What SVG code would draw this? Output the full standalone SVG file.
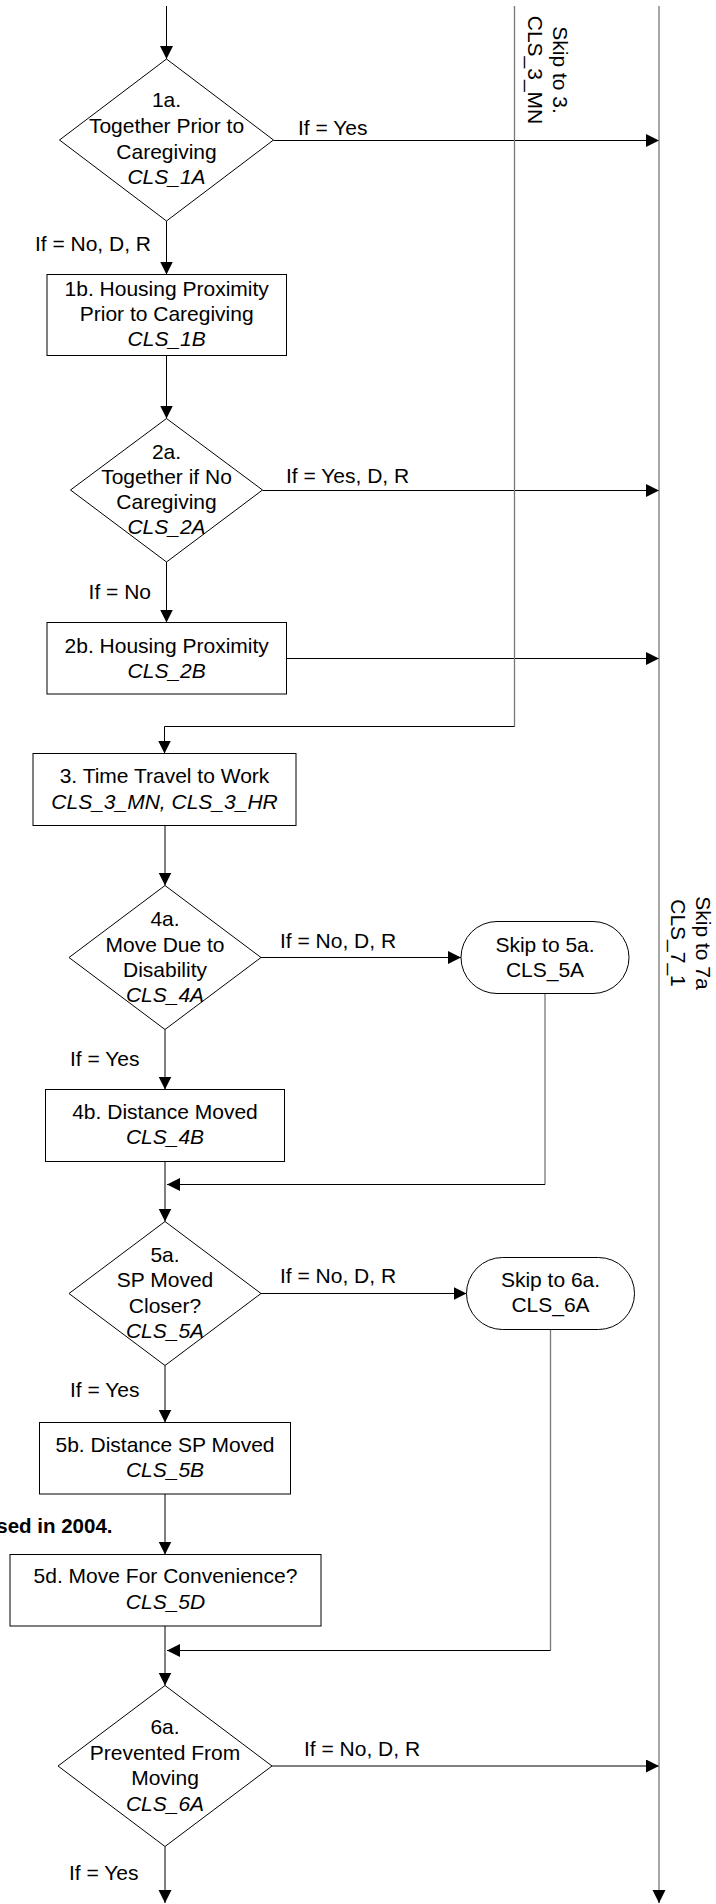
<svg xmlns="http://www.w3.org/2000/svg" width="716" height="1904" viewBox="0 0 716 1904">
<style>
text{font-family:"Liberation Sans",Arial,sans-serif;font-size:21px;fill:#000}
.c{text-anchor:middle}
.i{font-style:italic}
.e{text-anchor:end}
.b{font-weight:bold;font-size:20.5px}
.shape{fill:#fff;stroke:#000;stroke-width:1}
.ln{fill:none;stroke:#000;stroke-width:1}
.gl{fill:none;stroke:#777;stroke-width:1.3}
</style>
<defs>
<marker id="ah" markerUnits="userSpaceOnUse" markerWidth="14" markerHeight="14" refX="13" refY="6.5" orient="auto">
<path d="M0,0 L13,6.5 L0,13 z" fill="#000"/>
</marker>
</defs>
<rect width="716" height="1904" fill="#fff"/>

<g id="connectors">
<line class="ln" x1="166.5" y1="6" x2="166.5" y2="59" marker-end="url(#ah)"/>
<line class="ln" x1="273.5" y1="140.5" x2="659" y2="140.5" marker-end="url(#ah)"/>
<line class="ln" x1="166.5" y1="221" x2="166.5" y2="274.5" marker-end="url(#ah)"/>
<line class="ln" x1="166.5" y1="356" x2="166.5" y2="418.5" marker-end="url(#ah)"/>
<line class="ln" x1="262.5" y1="490.5" x2="659" y2="490.5" marker-end="url(#ah)"/>
<line class="ln" x1="166.5" y1="562" x2="166.5" y2="622.5" marker-end="url(#ah)"/>
<line class="ln" x1="286.5" y1="658.5" x2="659" y2="658.5" marker-end="url(#ah)"/>
<polyline class="gl" points="514.5,6 514.5,726.5"/>
<polyline class="ln" points="514.5,726.5 164.5,726.5 164.5,753.5" marker-end="url(#ah)"/>
<line class="ln" x1="165" y1="825.5" x2="165" y2="885.5" marker-end="url(#ah)"/>
<line class="ln" x1="261" y1="957.5" x2="461" y2="957.5" marker-end="url(#ah)"/>
<line class="gl" x1="545" y1="993.5" x2="545" y2="1184.5"/>
<line class="ln" x1="545" y1="1184.5" x2="167" y2="1184.5" marker-end="url(#ah)"/>
<line class="ln" x1="165" y1="1029.5" x2="165" y2="1089.5" marker-end="url(#ah)"/>
<line class="ln" x1="165" y1="1161.5" x2="165" y2="1221.5" marker-end="url(#ah)"/>
<line class="ln" x1="261" y1="1293.5" x2="466.5" y2="1293.5" marker-end="url(#ah)"/>
<line class="gl" x1="550.5" y1="1329.5" x2="550.5" y2="1650.5"/>
<line class="ln" x1="550.5" y1="1650.5" x2="167" y2="1650.5" marker-end="url(#ah)"/>
<line class="ln" x1="165" y1="1365.5" x2="165" y2="1422.5" marker-end="url(#ah)"/>
<line class="ln" x1="165" y1="1494" x2="165" y2="1554.5" marker-end="url(#ah)"/>
<line class="ln" x1="165" y1="1626" x2="165" y2="1685.5" marker-end="url(#ah)"/>
<line class="ln" x1="272" y1="1766" x2="659" y2="1766" marker-end="url(#ah)"/>
<line class="ln" x1="165" y1="1846.5" x2="165" y2="1903" marker-end="url(#ah)"/>
<line class="gl" x1="659" y1="6" x2="659" y2="1895"/>
<line class="ln" x1="659" y1="1890" x2="659" y2="1903" marker-end="url(#ah)"/>

<text x="298" y="135">If = Yes</text>
<text class="e" x="151" y="251">If = No, D, R</text>
<text x="286" y="483">If = Yes, D, R</text>
<text class="e" x="151" y="599">If = No</text>
<text x="280" y="948">If = No, D, R</text>
<text x="70" y="1066">If = Yes</text>
<text x="280" y="1283">If = No, D, R</text>
<text x="70" y="1397">If = Yes</text>
<text x="304" y="1756">If = No, D, R</text>
<text x="69" y="1880">If = Yes</text>
<text class="c" transform="translate(553,70) rotate(90)">Skip to 3.</text>
<text class="c" transform="translate(528,70) rotate(90)">CLS_3_MN</text>
<text class="c" transform="translate(695.5,943) rotate(90)">Skip to 7a</text>
<text class="c" transform="translate(671,943) rotate(90)">CLS_7_1</text>
</g>

<g id="n1a">
<polygon class="shape" points="166.5,59 273.5,140 166.5,221 59.5,140"/>
<text class="c" x="166.5" y="107">1a.</text>
<text class="c" x="166.5" y="133">Together Prior to</text>
<text class="c" x="166.5" y="159">Caregiving</text>
<text class="c i" x="166.5" y="184">CLS_1A</text>
</g>
<g id="n1b">
<rect class="shape" x="47" y="274.5" width="239.5" height="81"/>
<text class="c" x="166.7" y="296">1b. Housing Proximity</text>
<text class="c" x="166.7" y="321">Prior to Caregiving</text>
<text class="c i" x="166.7" y="346">CLS_1B</text>
</g>
<g id="n2a">
<polygon class="shape" points="166.5,418.5 262.5,490 166.5,562 70.5,490"/>
<text class="c" x="166.5" y="459">2a.</text>
<text class="c" x="166.5" y="484">Together if No</text>
<text class="c" x="166.5" y="509">Caregiving</text>
<text class="c i" x="166.5" y="534">CLS_2A</text>
</g>
<g id="n2b">
<rect class="shape" x="47" y="622.5" width="239.5" height="71.5"/>
<text class="c" x="166.7" y="653">2b. Housing Proximity</text>
<text class="c i" x="166.7" y="678">CLS_2B</text>
</g>
<g id="n3">
<rect class="shape" x="33" y="753.5" width="263" height="72"/>
<text class="c" x="164.5" y="783">3. Time Travel to Work</text>
<text class="c i" x="164.5" y="808.5">CLS_3_MN, CLS_3_HR</text>
</g>
<g id="n4a">
<polygon class="shape" points="165,885.5 261,957.5 165,1029.5 69,957.5"/>
<text class="c" x="165" y="926">4a.</text>
<text class="c" x="165" y="951.5">Move Due to</text>
<text class="c" x="165" y="976.5">Disability</text>
<text class="c i" x="165" y="1001.5">CLS_4A</text>
</g>
<g id="t5a">
<rect class="shape" x="461" y="921.5" width="168" height="72" rx="36" ry="36"/>
<text class="c" x="545" y="951.7">Skip to 5a.</text>
<text class="c" x="545" y="976.7">CLS_5A</text>
</g>
<g id="n4b">
<rect class="shape" x="45.5" y="1089.5" width="239" height="72"/>
<text class="c" x="165" y="1119.3">4b. Distance Moved</text>
<text class="c i" x="165" y="1144.3">CLS_4B</text>
</g>
<g id="n5a">
<polygon class="shape" points="165,1221.5 261,1293.5 165,1365.5 69,1293.5"/>
<text class="c" x="165" y="1261.5">5a.</text>
<text class="c" x="165" y="1286.5">SP Moved</text>
<text class="c" x="165" y="1312.5">Closer?</text>
<text class="c i" x="165" y="1337.5">CLS_5A</text>
</g>
<g id="t6a">
<rect class="shape" x="466.5" y="1257.5" width="168" height="72" rx="36" ry="36"/>
<text class="c" x="550.5" y="1286.7">Skip to 6a.</text>
<text class="c" x="550.5" y="1311.7">CLS_6A</text>
</g>
<g id="n5b">
<rect class="shape" x="39.5" y="1422.5" width="251" height="71.5"/>
<text class="c" x="165" y="1451.7">5b. Distance SP Moved</text>
<text class="c i" x="165" y="1477.3">CLS_5B</text>
</g>
<g id="note">
<text class="e b" x="112.5" y="1533">sed in 2004.</text>
</g>
<g id="n5d">
<rect class="shape" x="10" y="1554.5" width="311" height="71.5"/>
<text class="c" x="165.5" y="1583.3">5d. Move For Convenience?</text>
<text class="c i" x="165.5" y="1609.3">CLS_5D</text>
</g>
<g id="n6a">
<polygon class="shape" points="165,1685.5 272,1766 165,1846.5 58,1766"/>
<text class="c" x="165" y="1734">6a.</text>
<text class="c" x="165" y="1760">Prevented From</text>
<text class="c" x="165" y="1785">Moving</text>
<text class="c i" x="165" y="1810.5">CLS_6A</text>
</g>
</svg>
